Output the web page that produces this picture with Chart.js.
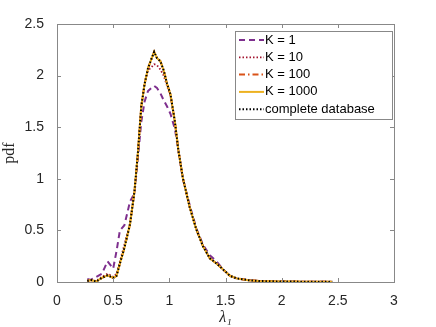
<!DOCTYPE html>
<html>
<head>
<meta charset="utf-8">
<script src="https://cdn.jsdelivr.net/npm/chart.js@4"></script>
<style>
  body { margin: 0; background: #fff; }
  #wrap { width: 436px; height: 327px; }
</style>
</head>
<body>
<div id="wrap"><canvas id="chart" width="436" height="327"></canvas></div>
<script>
// lambda_1 grid and pdf values
const lambda = [0.27, 0.30, 0.35, 0.40, 0.45, 0.50, 0.53, 0.56, 0.60, 0.65, 0.69, 0.72, 0.75, 0.78, 0.81, 0.84, 0.865, 0.89, 0.92, 0.95, 0.98, 1.01, 1.05, 1.08, 1.12, 1.18, 1.24, 1.30, 1.36, 1.42, 1.48, 1.54, 1.60, 1.70, 1.80, 1.90, 2.00, 2.10, 2.20, 2.30, 2.45];

const pdfK1 = [0.03, 0.02, 0.05, 0.08, 0.20, 0.13, 0.30, 0.50, 0.55, 0.78, 0.86, 1.20, 1.55, 1.75, 1.85, 1.88, 1.90, 1.88, 1.83, 1.76, 1.70, 1.63, 1.48, 1.28, 1.00, 0.75, 0.52, 0.36, 0.26, 0.20, 0.12, 0.06, 0.035, 0.018, 0.01, 0.007, 0.005, 0.004, 0.003, 0.003, 0.002];
const pdfK10 = [0.01, 0.02, 0.01, 0.05, 0.08, 0.05, 0.08, 0.20, 0.36, 0.57, 0.88, 1.25, 1.70, 1.92, 2.05, 2.08, 2.11, 2.10, 2.06, 2.00, 1.90, 1.80, 1.55, 1.28, 1.01, 0.73, 0.51, 0.35, 0.23, 0.18, 0.12, 0.06, 0.035, 0.018, 0.01, 0.007, 0.005, 0.004, 0.003, 0.003, 0.002];
const pdfK100 = [0.01, 0.02, 0.005, 0.04, 0.065, 0.04, 0.06, 0.18, 0.33, 0.56, 0.88, 1.25, 1.70, 1.92, 2.07, 2.16, 2.23, 2.17, 2.14, 2.05, 1.92, 1.82, 1.55, 1.28, 1.01, 0.73, 0.51, 0.345, 0.23, 0.18, 0.12, 0.06, 0.035, 0.018, 0.01, 0.007, 0.005, 0.004, 0.003, 0.003, 0.002];
const pdfK1000 = pdfK100.slice();
const pdfAll = pdfK100.slice();

const xTicks = [0, 0.5, 1, 1.5, 2, 2.5, 3];
const yTicks = [0, 0.5, 1, 1.5, 2, 2.5];

const pts = arr => arr.map((v, i) => ({ x: lambda[i], y: v }));

const axisColor = '#888888';
const textColor = '#262626';

// box + inward ticks like matlab
const boxPlugin = {
  id: 'box',
  afterDatasetsDraw(chart) {
    const { ctx, chartArea: a, scales } = chart;
    ctx.save();
    ctx.strokeStyle = axisColor;
    ctx.lineWidth = 1;
    ctx.strokeRect(Math.round(a.left) + 0.5, Math.round(a.top) + 0.5, Math.round(a.right - a.left), Math.round(a.bottom - a.top));
    const L = 4;
    ctx.beginPath();
    xTicks.forEach(t => {
      const px = Math.round(scales.x.getPixelForValue(t)) + 0.5;
      ctx.moveTo(px, a.bottom); ctx.lineTo(px, a.bottom - L);
      ctx.moveTo(px, a.top); ctx.lineTo(px, a.top + L);
    });
    yTicks.forEach(t => {
      const py = Math.round(scales.y.getPixelForValue(t)) + 0.5;
      ctx.moveTo(a.left, py); ctx.lineTo(a.left + L, py);
      ctx.moveTo(a.right, py); ctx.lineTo(a.right - L, py);
    });
    ctx.stroke();
    ctx.restore();
  },
  afterDraw(chart) {
    // legend box, top right inside the axes
    const ctx = chart.ctx;
    const x0 = 235, y0 = 31, w = 157, h = 88;
    ctx.save();
    ctx.fillStyle = '#fff';
    ctx.fillRect(x0, y0, w, h);
    ctx.strokeStyle = axisColor;
    ctx.lineWidth = 1;
    ctx.strokeRect(x0 + 0.5, y0 + 0.5, w, h);
    ctx.font = '13px "Liberation Sans", Arial, sans-serif';
    ctx.textBaseline = 'middle';
    chart.data.datasets.forEach((ds, i) => {
      const y = y0 + 9 + i * 17.3;
      ctx.strokeStyle = ds.borderColor;
      ctx.lineWidth = ds.borderWidth;
      ctx.setLineDash(ds.borderDash || []);
      ctx.beginPath();
      ctx.moveTo(x0 + 4, y); ctx.lineTo(x0 + 29, y);
      ctx.stroke();
      ctx.setLineDash([]);
      ctx.fillStyle = '#000';
      ctx.fillText(ds.label, x0 + 30, y);
    });
    ctx.restore();
  }
};

new Chart(document.getElementById('chart'), {
  type: 'line',
  data: {
    datasets: [
      { label: 'K = 1', data: pts(pdfK1), borderColor: '#7E2F8E', borderWidth: 2, borderDash: [6, 4], order: 5 },
      { label: 'K = 10', data: pts(pdfK10), borderColor: '#A2142F', borderWidth: 1.8, borderDash: [1.5, 2], order: 4 },
      { label: 'K = 100', data: pts(pdfK100), borderColor: '#D95319', borderWidth: 2, borderDash: [6, 3, 1.5, 3], order: 3 },
      { label: 'K = 1000', data: pts(pdfK1000), borderColor: '#EDB120', borderWidth: 2, order: 2 },
      { label: 'complete database', data: pts(pdfAll), borderColor: '#000000', borderWidth: 2, borderDash: [1.5, 2], order: 1 }
    ]
  },
  options: {
    responsive: false,
    animation: false,
    events: [],
    elements: { point: { radius: 0 }, line: { tension: 0 } },
    layout: { padding: { left: 0, right: 42, top: 24, bottom: 0 } },
    plugins: { legend: { display: false }, tooltip: { enabled: false } },
    scales: {
      x: {
        type: 'linear', min: 0, max: 3,
        afterBuildTicks: s => { s.ticks = xTicks.map(v => ({ value: v })); },
        afterFit: s => { s.height = 45; },
        grid: { display: false },
        border: { display: false },
        ticks: { color: textColor, padding: 3, callback: v => String(v), font: { family: '"Liberation Sans", Arial, sans-serif', size: 14 }, maxRotation: 0 },
        title: { display: true, text: 'λ₁', color: textColor, padding: { top: -2, bottom: 0 }, font: { family: '"Liberation Serif", "Times New Roman", serif', size: 16, style: 'italic' } }
      },
      y: {
        min: 0, max: 2.5,
        afterBuildTicks: s => { s.ticks = yTicks.map(v => ({ value: v })); },
        afterFit: s => { s.width = 57; },
        grid: { display: false },
        border: { display: false },
        ticks: { color: textColor, padding: 5, callback: v => String(v), font: { family: '"Liberation Sans", Arial, sans-serif', size: 14 } },
        title: { display: true, text: 'pdf', color: textColor, padding: { top: 0, bottom: 0 }, font: { family: '"Liberation Serif", "Times New Roman", serif', size: 16 } }
      }
    }
  },
  plugins: [boxPlugin]
});
</script>
</body>
</html>
